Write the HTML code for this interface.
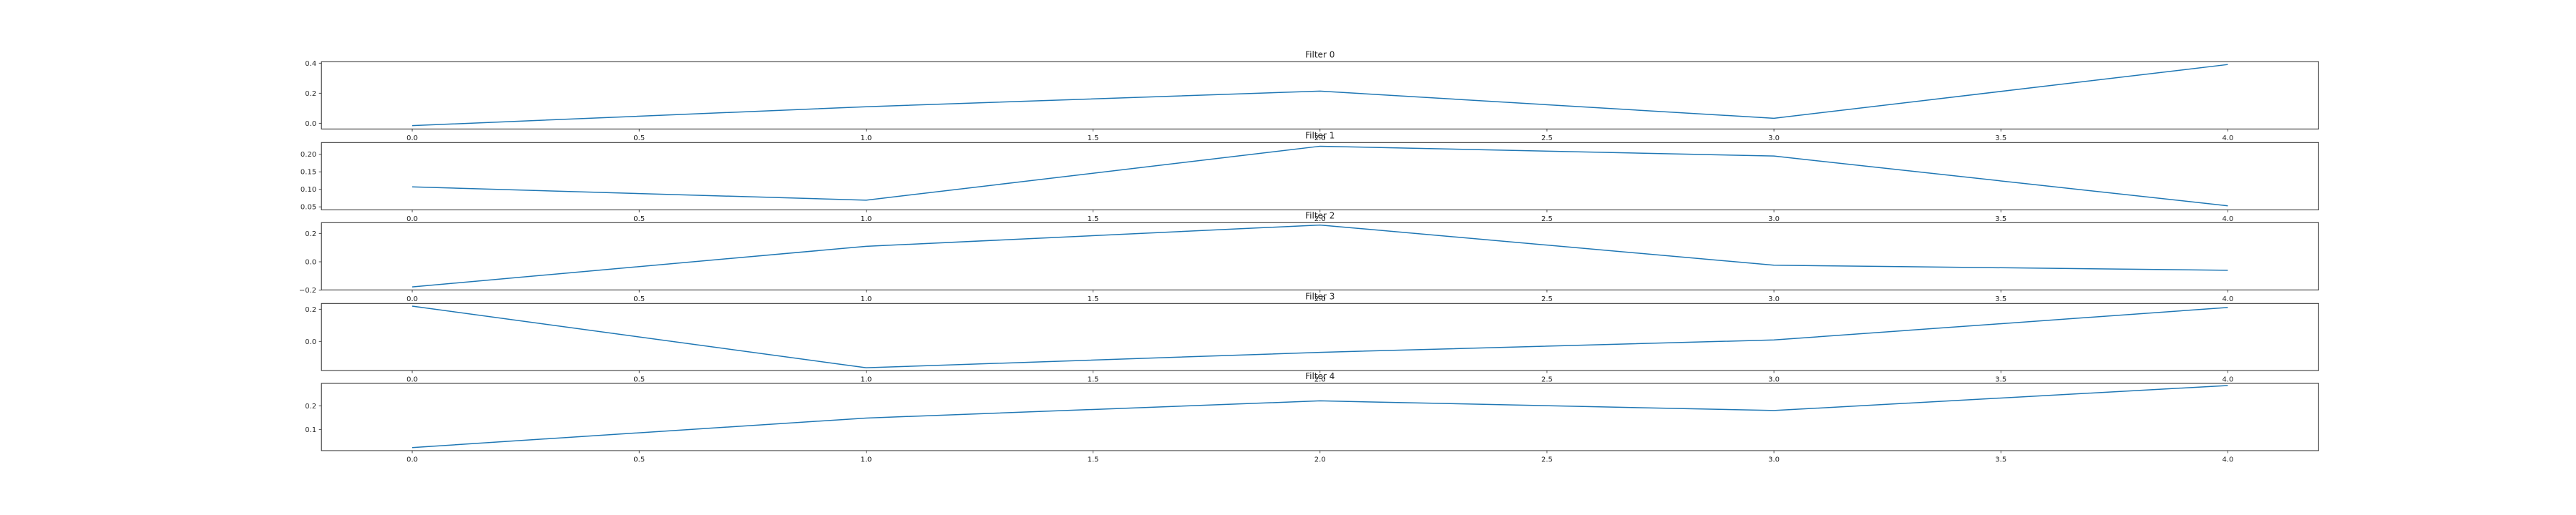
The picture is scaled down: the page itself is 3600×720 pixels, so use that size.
<!DOCTYPE html>
<html><head><meta charset="utf-8"><style>
html,body{margin:0;padding:0;background:#fff;}
svg{display:block;}
text{font-family:"DejaVu Sans","Liberation Sans",sans-serif;fill:#262626;}
</style></head><body>
<svg id="chart" width="3600" height="720" xmlns="http://www.w3.org/2000/svg"></svg>
<script>
const xValues = [0, 1, 2, 3, 4];
const xTicks = [0.0, 0.5, 1.0, 1.5, 2.0, 2.5, 3.0, 3.5, 4.0];
const titles = ["Filter 0", "Filter 1", "Filter 2", "Filter 3", "Filter 4"];
const filter0 = [-0.016, 0.110, 0.214, 0.033, 0.391];
const filter1 = [0.107, 0.069, 0.223, 0.195, 0.053];
const filter2 = [-0.177, 0.109, 0.259, -0.024, -0.060];
const filter3 = [0.219, -0.164, -0.068, 0.009, 0.211];
const filter4 = [0.023, 0.148, 0.221, 0.180, 0.286];
const yMins = [-0.038, 0.0416, -0.198, -0.181, 0.010];
const yMaxs = [0.4095, 0.2335, 0.2756, 0.2356, 0.295];
const yTicks0 = [0.0, 0.2, 0.4];
const yTicks1 = [0.05, 0.10, 0.15, 0.20];
const yTicks2 = [-0.2, 0.0, 0.2];
const yTicks3 = [0.0, 0.2];
const yTicks4 = [0.1, 0.2];

const series = [filter0, filter1, filter2, filter3, filter4];
const yTickSets = [yTicks0, yTicks1, yTicks2, yTicks3, yTicks4];
const yDecimals = [1, 2, 1, 1, 1];
const axTops = [86.3, 199.3, 311.3, 424.3, 536];
const axBots = [180.3, 293.3, 405.3, 518, 630];
const axLeft = 449.2, axRight = 3240.3, xMin = -0.2, xMax = 4.2;
const NS = "http://www.w3.org/2000/svg";
const svg = document.getElementById("chart");
function mk(tag, attrs, parent) {
  const e = document.createElementNS(NS, tag);
  for (const k in attrs) e.setAttribute(k, attrs[k]);
  (parent || svg).appendChild(e);
  return e;
}
function fmt(v, d) { const s = Math.abs(v).toFixed(d); return (v < -1e-9 ? "\u2212" : "") + s; }
const xScale = v => axLeft + (v - xMin) / (xMax - xMin) * (axRight - axLeft);

for (let i = 0; i < 5; i++) {
  const top = axTops[i], bot = axBots[i];
  const yScale = v => bot - (v - yMins[i]) / (yMaxs[i] - yMins[i]) * (bot - top);
  const g = mk("g", {});
  
  
  const pts = series[i].map((v, j) => xScale(xValues[j]).toFixed(2) + "," + yScale(v).toFixed(2)).join(" ");
  const line = mk("polyline", {points: pts, fill: "none", stroke: "#1f77b4", "stroke-width": 1.5, "stroke-linejoin": "round"}, g);
  
  
  const frame = mk("rect", {x: axLeft, y: top, width: axRight - axLeft, height: bot - top, fill: "none", stroke: "#262626", "stroke-width": 1}, g);
  
  
  xTicks.forEach(t => {
    const x = xScale(t);
    mk("line", {x1: x, x2: x, y1: bot, y2: bot + 3.5, stroke: "#262626", "stroke-width": 0.8}, g);
    const tx = mk("text", {x: x, y: bot + 15.5, "font-size": 10, "text-anchor": "middle"}, g);
    tx.textContent = t.toFixed(1);
    
    
  });
  yTickSets[i].forEach(t => {
    const y = yScale(t);
    mk("line", {x1: axLeft - 3.5, x2: axLeft, y1: y, y2: y, stroke: "#262626", "stroke-width": 0.8}, g);
    const ty = mk("text", {x: axLeft - 7, y: y + 3.5, "font-size": 10, "text-anchor": "end"}, g);
    ty.textContent = fmt(t, yDecimals[i]);
    
    
  });
  const title = mk("text", {x: (axLeft + axRight) / 2, y: top - 6, "font-size": 12, "text-anchor": "middle"}, g);
  title.textContent = titles[i];
  
  
}
</script>
</body></html>
